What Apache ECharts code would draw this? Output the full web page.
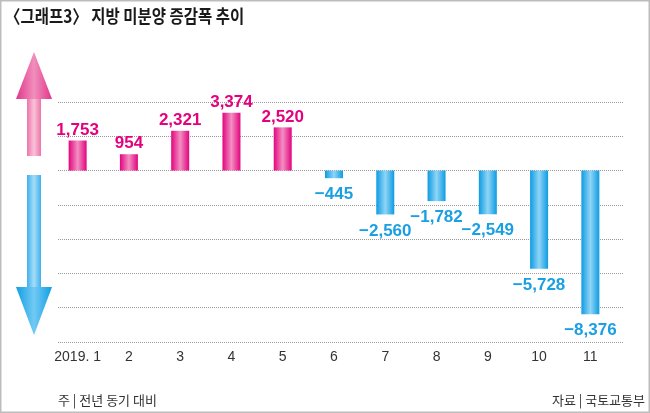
<!DOCTYPE html>
<html>
<head>
<meta charset="utf-8">
<script src="https://cdn.jsdelivr.net/npm/echarts@6/dist/echarts.min.js"></script>
<style>
html,body{margin:0;padding:0;background:#fff;}
#chart{width:650px;height:413px;}
</style>
</head>
<body>
<div id="chart"></div>
<script>
// ---- data ----
const categories = ['2019. 1', '2', '3', '4', '5', '6', '7', '8', '9', '10', '11'];
const values = [1753, 954, 2321, 3374, 2520, -445, -2560, -1782, -2549, -5728, -8376];
const yMin = -10000;
const yMax = 4000;
const yStep = 2000;
const titleText = '〈그래프3〉 지방 미분양 증감폭 추이';
const noteText = '주 | 전년 동기 대비';
const sourceText = '자료 | 국토교통부';

// ---- styles ----
const PINK = '#e4007f';
const BLUE = '#1a9fe3';
function hGrad(edge, mid) {
  return new echarts.graphic.LinearGradient(0, 0, 1, 0, [
    {offset: 0, color: edge}, {offset: 0.5, color: mid}, {offset: 1, color: edge}
  ]);
}
function fmt(v) {
  return (v < 0 ? '\u2212' : '') + Math.abs(v).toLocaleString('en-US');
}

const barData = values.map(v => ({
  value: v,
  itemStyle: {color: v >= 0 ? hGrad('#e2047f', '#f38fc2') : hGrad('#0e9be2', '#8fd5f6')},
  label: {position: v >= 0 ? 'top' : 'bottom', distance: v >= 0 ? 2 : 8, color: v >= 0 ? PINK : BLUE}
}));

const chart = echarts.init(document.getElementById('chart'));
chart.setOption({
  animation: false,
  backgroundColor: '#fff',
  grid: [
    {left: 52, right: 34, top: 102, bottom: 71},
    {left: 58, right: 27, top: 102, bottom: 71}
  ],
  xAxis: [
    {
      type: 'category', gridIndex: 0, data: categories,
      axisLine: {show: false}, axisTick: {show: false},
      axisLabel: {color: '#333', fontSize: 14, margin: 8, interval: 0,
        fontFamily: "'Liberation Sans',Arial,sans-serif"}
    },
    {type: 'value', gridIndex: 1, min: 0, max: 1, show: false}
  ],
  yAxis: [
    {type: 'value', gridIndex: 0, min: yMin, max: yMax, interval: yStep, show: false},
    {
      type: 'value', gridIndex: 1, min: yMin, max: yMax, interval: yStep,
      axisLine: {show: false}, axisTick: {show: false}, axisLabel: {show: false},
      splitLine: {show: true, lineStyle: {type: [1, 1], color: '#9a9a9a', width: 1}}
    }
  ],
  series: [{
    type: 'bar', xAxisIndex: 0, yAxisIndex: 0, barWidth: 18,
    data: barData,
    label: {
      show: true, fontSize: 17, fontWeight: 'bold',
      fontFamily: "'Liberation Sans',Arial,sans-serif",
      formatter: p => fmt(p.value)
    }
  }],
  graphic: [
    {type: 'rect', z: 100, shape: {x: 0.75, y: 0.75, width: 648.5, height: 411.5},
      style: {fill: 'none', stroke: '#bdbdbd', lineWidth: 1.5}},
    {type: 'text', x: 5, y: 16, scaleX: 0.86, z: 100,
      style: {text: titleText, fill: '#1a1a1a', font: "bold 18px 'Noto Sans CJK KR'", textVerticalAlign: 'middle'}},
    {type: 'text', x: 58, y: 400, z: 100,
      style: {text: noteText, fill: '#333', font: "13px 'Noto Sans CJK KR'", textVerticalAlign: 'middle'}},
    {type: 'text', x: 645, y: 400, z: 100,
      style: {text: sourceText, fill: '#333', font: "13px 'Noto Sans CJK KR'", textAlign: 'right', textVerticalAlign: 'middle'}},
    // pink up arrow
    {type: 'rect', shape: {x: 27, y: 98, width: 14, height: 58},
      style: {fill: hGrad('#ee74a8', '#f8c3da')}},
    {type: 'polygon', shape: {points: [[34, 52], [52, 99], [16, 99]]},
      style: {fill: hGrad('#e3358a', '#f08fbc')}},
    // blue down arrow
    {type: 'rect', shape: {x: 27, y: 175, width: 14, height: 113},
      style: {fill: hGrad('#3fb0ec', '#a6def8')}},
    {type: 'polygon', shape: {points: [[16, 287], [52, 287], [34, 335]]},
      style: {fill: hGrad('#109fe4', '#72c9f3')}}
  ]
});
</script>
</body>
</html>
